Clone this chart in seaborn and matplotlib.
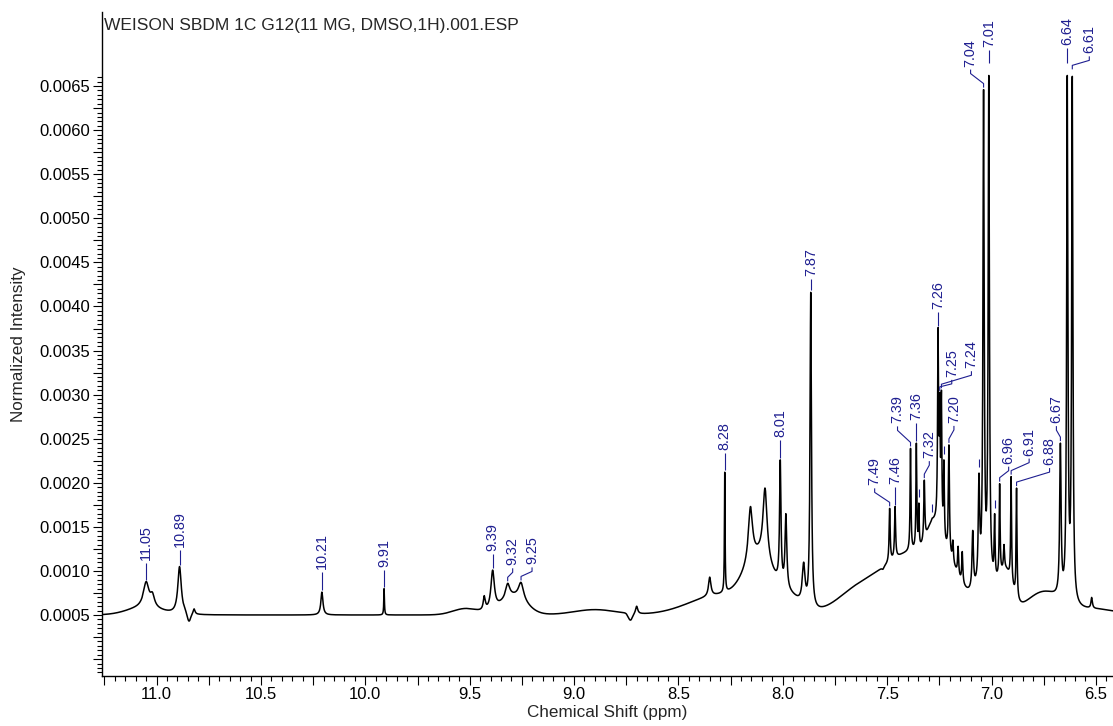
import numpy as np
import pandas as pd
import matplotlib
matplotlib.use("Agg")
import matplotlib.pyplot as plt
import seaborn as sns
from matplotlib.ticker import FixedLocator, FuncFormatter

# ---------------- spectrum data ----------------
# annotated signals: shift (ppm), intensity at the shift, half width at half maximum (ppm)
annotated_ppm = [11.050, 10.890, 10.208, 9.910, 9.390, 9.318, 9.254,
                 8.278, 8.012, 7.866, 7.488, 7.462, 7.388, 7.360, 7.322,
                 7.256, 7.248, 7.240, 7.204, 7.038, 7.013, 6.961, 6.906,
                 6.880, 6.670, 6.637, 6.613]
annotated_height = [0.00088, 0.00105, 0.00076, 0.00080, 0.00101, 0.00086, 0.00087,
                    0.00212, 0.00226, 0.00416, 0.00171, 0.00173, 0.00239, 0.00245, 0.00203,
                    0.00376, 0.00302, 0.00305, 0.00243, 0.00646, 0.00662, 0.00199, 0.00207,
                    0.00194, 0.00245, 0.00662, 0.00661]
annotated_hwhm = [0.016, 0.010, 0.006, 0.0018, 0.010, 0.012, 0.015,
                  0.0018, 0.004, 0.004, 0.003, 0.003, 0.0025, 0.0025, 0.003,
                  0.0028, 0.0025, 0.0025, 0.003, 0.0035, 0.0035, 0.0025, 0.0025,
                  0.0025, 0.004, 0.0035, 0.0035]

# picked signals without a shift annotation (short tick above the peak)
picked_ppm = [7.348, 7.284, 7.228, 7.060, 6.985]
picked_height = [0.00177, 0.00160, 0.00226, 0.00211, 0.00165]
picked_hwhm = [0.002, 0.003, 0.0025, 0.004, 0.0025]

# other resolved features
other_ppm = [11.02, 10.82, 9.43, 8.70, 8.35, 8.155, 8.085, 7.985, 7.90, 7.52,
             7.185, 7.16, 7.14, 7.09, 6.94, 6.52]
other_height = [0.00076, 0.00057, 0.00072, 0.00060, 0.00093, 0.00173, 0.00194, 0.00165,
                0.00110, 0.00102, 0.00135, 0.00128, 0.00122, 0.00146, 0.00130, 0.00070]
other_hwhm = [0.012, 0.005, 0.006, 0.006, 0.007, 0.012, 0.012, 0.005, 0.008, 0.006,
              0.003, 0.003, 0.003, 0.004, 0.003, 0.004]

# broad envelope beneath the signals: centre (ppm), amplitude, sigma (ppm)
baseline_level = 0.0005
envelope_ppm = [11.06, 10.845, 9.52, 9.29, 8.90, 8.73, 8.30, 8.11, 7.96, 7.65,
                7.38, 7.28, 7.22, 7.02, 6.93, 6.75, 6.50]
envelope_amp = [0.00008, -0.00010, 0.00007, 0.00020, 0.00006, -0.00008, 0.00022, 0.00055,
                0.00015, 0.00020, 0.00070, 0.00030, 0.00030, 0.00030, 0.00040, 0.00025, 0.00006]
envelope_sigma = [0.08, 0.008, 0.06, 0.06, 0.10, 0.010, 0.15, 0.07, 0.05, 0.10,
                  0.15, 0.03, 0.06, 0.05, 0.03, 0.08, 0.10]

title_text = "WEISON SBDM 1C G12(11 MG, DMSO,1H).001.ESP"
x_range = (11.263, 6.418)
y_range = (-0.000188, 0.00734)

# ---------------- line-shape model ----------------
def envelope(x):
    x = np.asarray(x, float)[..., None]
    c = np.array(envelope_ppm); a = np.array(envelope_amp); s = np.array(envelope_sigma)
    return baseline_level + (a * np.exp(-(x - c) ** 2 / (2 * s ** 2))).sum(-1)

centres = np.array(annotated_ppm + picked_ppm + other_ppm)
heights = np.array(annotated_height + picked_height + other_height)
widths = np.array(annotated_hwhm + picked_hwhm + other_hwhm)

def lorentz(x, c, w):
    return 1.0 / (1.0 + ((x - c) / w) ** 2)

# amplitudes chosen so the summed trace passes through each listed height
design = lorentz(centres[:, None], centres[None, :], widths[None, :])
amps = np.linalg.solve(design, heights - envelope(centres))

def spectrum(x):
    x = np.asarray(x, float)
    return envelope(x) + (amps * lorentz(x[..., None], centres, widths)).sum(-1)

grid = np.union1d(np.linspace(x_range[1], x_range[0], 9000), centres)
df = pd.DataFrame({"Chemical Shift (ppm)": grid, "Normalized Intensity": spectrum(grid)})

# ---------------- figure ----------------
sns.set_style("ticks")
plt.rcParams["font.family"] = ["Liberation Sans", "DejaVu Sans"]

W, H = 1113, 726
fig = plt.figure(figsize=(W / 100, H / 100), dpi=100)
ax_l, ax_r, ax_t, ax_b = 101.7, 1113.0, 12.0, 675.7
ax = fig.add_axes([ax_l / W, (H - ax_b) / H, (ax_r - ax_l) / W, (ax_b - ax_t) / H])

sns.lineplot(data=df, x="Chemical Shift (ppm)", y="Normalized Intensity", ax=ax,
             color="black", linewidth=1.1, estimator=None, sort=False)

ax.set_xlim(*x_range)
ax.set_ylim(*y_range)
for side in ("top", "right"):
    ax.spines[side].set_visible(False)
for side in ("left", "bottom"):
    ax.spines[side].set_linewidth(1.0)
    ax.spines[side].set_color("black")

# x ticks: labels every 0.5 ppm, medium every 0.25, minor every 0.05
ax.xaxis.set_major_locator(FixedLocator(np.arange(6.5, 11.26, 0.25)))
ax.xaxis.set_minor_locator(FixedLocator(np.arange(6.45, 11.26, 0.05)))
ax.xaxis.set_major_formatter(FuncFormatter(
    lambda v, p: f"{v:.1f}" if abs(v * 2 - round(v * 2)) < 1e-6 else ""))
# y ticks
ax.yaxis.set_major_locator(FixedLocator(np.arange(0.0, 0.00651, 0.00025)))
ax.yaxis.set_minor_locator(FixedLocator(np.arange(-0.00015, 0.006601, 0.00005)))
ax.yaxis.set_major_formatter(FuncFormatter(
    lambda v, p: f"{v:.4f}" if v > 0.0004 and abs(v / 0.0005 - round(v / 0.0005)) < 1e-6 else ""))

ax.tick_params(axis="both", which="major", direction="out", length=6.2, width=0.8,
               labelsize=12, colors="black")
ax.tick_params(axis="both", which="minor", direction="out", length=3.4, width=0.8, colors="black")
ax.tick_params(axis="x", which="major", pad=2.0)
ax.tick_params(axis="y", which="major", pad=2.2)

ax.set_xlabel("Chemical Shift (ppm)", fontsize=12.3)
ax.set_ylabel("Normalized Intensity", fontsize=12.3)
ax.xaxis.set_label_coords(0.5, (ax_b - 705) / (ax_b - ax_t))
ax.yaxis.set_label_coords((26 - ax_l) / (ax_r - ax_l), 0.5)

fig.text(104 / W, 1 - 30 / H, title_text, fontsize=12.5, ha="left", va="baseline")

# ---------------- peak annotations ----------------
label_color = "#1e1e90"
# per-label layout in pixels: horizontal shift of the text, height of the text base above the
# peak top, gap between peak top and the leader
label_dx_px = [0, 0, 0, 0, 0, 5, 11, 0, 0, 0, -15, 0, -13, 0, 5, 0, 12, 30, 5, -13, 0, 9, 18, 33, -4, 0, 17]
label_rise_px = [22, 20, 23, 22, 19, 18, 18, 22, 23, 16, 23, 23, 25, 23, 22, 19, 16, 22, 22, 23, 28, 20, 21, 23, 20, 30, 23]
label_gap_px = [2, 2, 2, 2, 2, 2, 2, 2, 2, 2, 2, 2, 2, 2, 2, 2, 2, 2, 2, 2, 12, 2, 2, 2, 2, 12, 7]

ppm_per_px = (x_range[1] - x_range[0]) / (ax_r - ax_l)
int_per_px = (y_range[1] - y_range[0]) / (ax_b - ax_t)

for p, dx, rise, gap in zip(annotated_ppm, label_dx_px, label_rise_px, label_gap_px):
    top = float(spectrum(p))
    lx = p + dx * ppm_per_px
    y0 = top + gap * int_per_px
    y3 = top + (rise - 3) * int_per_px
    if dx == 0:
        xs, ys = [p, p], [y0, y3]
    else:
        xs = [p, p, lx, lx]
        ys = [y0, y0 + 4 * int_per_px, y3 - 4 * int_per_px, y3]
    ax.plot(xs, ys, color=label_color, linewidth=0.8, solid_capstyle="butt")
    ax.text(lx, top + rise * int_per_px, f"{p:.2f}", rotation=90, ha="center", va="bottom",
            fontsize=10.4, color=label_color)

for p in picked_ppm:
    top = float(spectrum(p))
    ax.plot([p, p], [top + 6 * int_per_px, top + 14 * int_per_px], color=label_color,
            linewidth=0.8, solid_capstyle="butt")

fig.savefig("out.png", dpi=100)
